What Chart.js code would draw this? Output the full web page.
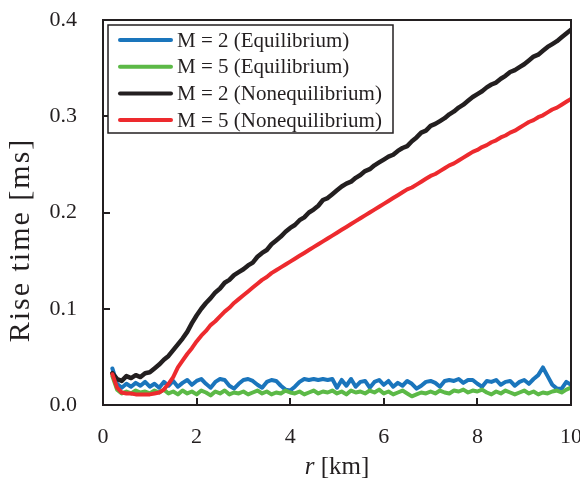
<!DOCTYPE html>
<html>
<head>
<meta charset="utf-8">
<script src="https://cdn.jsdelivr.net/npm/chart.js@4.4.1/dist/chart.umd.min.js"></script>
<style>
  html, body { margin: 0; padding: 0; background: #ffffff; }
  #wrap { width: 580px; height: 482px; }
</style>
</head>
<body>
<div id="wrap"><canvas id="grafico" width="580" height="482"></canvas></div>
<script>
// dados (r em km, tempo de subida em ms)
const rKm = [
  0.2, 0.3, 0.4, 0.5, 0.6, 0.7, 0.8, 0.9, 1.0, 1.1,
  1.2, 1.3, 1.4, 1.5, 1.6, 1.7, 1.8, 1.9, 2.0, 2.1,
  2.2, 2.3, 2.4, 2.5, 2.6, 2.7, 2.8, 2.9, 3.0, 3.1,
  3.2, 3.3, 3.4, 3.5, 3.6, 3.7, 3.8, 3.9, 4.0, 4.1,
  4.2, 4.3, 4.4, 4.5, 4.6, 4.7, 4.8, 4.9, 5.0, 5.1,
  5.2, 5.3, 5.4, 5.5, 5.6, 5.7, 5.8, 5.9, 6.0, 6.1,
  6.2, 6.3, 6.4, 6.5, 6.6, 6.7, 6.8, 6.9, 7.0, 7.1,
  7.2, 7.3, 7.4, 7.5, 7.6, 7.7, 7.8, 7.9, 8.0, 8.1,
  8.2, 8.3, 8.4, 8.5, 8.6, 8.7, 8.8, 8.9, 9.0, 9.1,
  9.2, 9.3, 9.4, 9.5, 9.6, 9.7, 9.8, 9.9, 10.0
];
const m2Equilibrio = [
  0.038, 0.022, 0.018, 0.022, 0.019, 0.023, 0.020, 0.024, 0.019, 0.022,
  0.018, 0.024, 0.020, 0.025, 0.019, 0.023, 0.026, 0.021, 0.025, 0.027,
  0.022, 0.018, 0.024, 0.027, 0.026, 0.020, 0.017, 0.022, 0.026, 0.027,
  0.025, 0.021, 0.018, 0.024, 0.026, 0.025, 0.020, 0.016, 0.015, 0.019,
  0.024, 0.027, 0.026, 0.027, 0.026, 0.027, 0.026, 0.027, 0.018, 0.026,
  0.020, 0.027, 0.019, 0.024, 0.025, 0.018, 0.024, 0.026, 0.021, 0.025,
  0.019, 0.023, 0.020, 0.025, 0.022, 0.017, 0.020, 0.024, 0.025, 0.023,
  0.019, 0.025, 0.026, 0.025, 0.027, 0.023, 0.026, 0.026, 0.022, 0.019,
  0.025, 0.024, 0.026, 0.021, 0.024, 0.025, 0.020, 0.024, 0.026, 0.022,
  0.027, 0.031, 0.039, 0.030, 0.021, 0.017, 0.017, 0.024, 0.021
];
const m5Equilibrio = [
  0.030, 0.016, 0.012, 0.014, 0.012, 0.015, 0.013, 0.014, 0.012, 0.015,
  0.013, 0.016, 0.012, 0.014, 0.011, 0.015, 0.012, 0.014, 0.011, 0.015,
  0.013, 0.010, 0.014, 0.012, 0.015, 0.011, 0.013, 0.012, 0.014, 0.011,
  0.013, 0.015, 0.012, 0.014, 0.011, 0.013, 0.012, 0.015, 0.013, 0.012,
  0.014, 0.011, 0.013, 0.015, 0.012, 0.014, 0.013, 0.015, 0.012, 0.014,
  0.011, 0.015, 0.013, 0.014, 0.012, 0.015, 0.013, 0.016, 0.012, 0.014,
  0.011, 0.013, 0.015, 0.012, 0.009, 0.011, 0.013, 0.012, 0.014, 0.012,
  0.015, 0.013, 0.012, 0.015, 0.014, 0.016, 0.013, 0.015, 0.014, 0.016,
  0.013, 0.011, 0.014, 0.012, 0.015, 0.013, 0.011, 0.013, 0.015, 0.012,
  0.014, 0.011, 0.013, 0.012, 0.014, 0.015, 0.013, 0.016, 0.018
];
const m2NaoEquilibrio = [
  0.033, 0.027, 0.025, 0.030, 0.028, 0.031, 0.029, 0.033, 0.034, 0.038,
  0.042, 0.047, 0.051, 0.057, 0.063, 0.069, 0.076, 0.085, 0.093, 0.100,
  0.106, 0.111, 0.117, 0.121, 0.127, 0.130, 0.135, 0.138, 0.141, 0.145,
  0.148, 0.154, 0.158, 0.161, 0.167, 0.171, 0.175, 0.180, 0.184, 0.187,
  0.192, 0.195, 0.200, 0.203, 0.207, 0.213, 0.215, 0.219, 0.223, 0.227,
  0.230, 0.232, 0.236, 0.239, 0.243, 0.245, 0.249, 0.252, 0.255, 0.258,
  0.260, 0.264, 0.267, 0.269, 0.274, 0.278, 0.283, 0.285, 0.290, 0.292,
  0.295, 0.298, 0.302, 0.305, 0.309, 0.312, 0.316, 0.320, 0.323, 0.326,
  0.330, 0.333, 0.335, 0.339, 0.342, 0.346, 0.348, 0.351, 0.354, 0.358,
  0.362, 0.364, 0.368, 0.372, 0.375, 0.378, 0.382, 0.386, 0.390
];
const m5NaoEquilibrio = [
  0.032, 0.018, 0.013, 0.012, 0.012, 0.011, 0.011, 0.011, 0.011, 0.012,
  0.013, 0.016, 0.022, 0.029, 0.039, 0.046, 0.053, 0.059, 0.066, 0.072,
  0.077, 0.083, 0.087, 0.092, 0.097, 0.101, 0.106, 0.110, 0.114, 0.118,
  0.122, 0.126, 0.130, 0.133, 0.137, 0.140, 0.143, 0.146, 0.149, 0.152,
  0.155, 0.158, 0.161, 0.164, 0.167, 0.170, 0.173, 0.176, 0.179, 0.182,
  0.185, 0.188, 0.191, 0.194, 0.197, 0.200, 0.203, 0.206, 0.209, 0.212,
  0.215, 0.218, 0.221, 0.224, 0.226, 0.229, 0.232, 0.235, 0.238, 0.240,
  0.243, 0.246, 0.249, 0.251, 0.254, 0.257, 0.260, 0.263, 0.265, 0.268,
  0.270, 0.273, 0.275, 0.278, 0.280, 0.283, 0.285, 0.288, 0.291, 0.294,
  0.296, 0.299, 0.301, 0.304, 0.307, 0.309, 0.312, 0.315, 0.318
];
const rotulosSeries = [
  "M = 2 (Equilibrium)",
  "M = 5 (Equilibrium)",
  "M = 2 (Nonequilibrium)",
  "M = 5 (Nonequilibrium)"
];
const ticksX = [2, 4, 6, 8];
const ticksY = [0.1, 0.2, 0.3];

const FONTE = '"Liberation Serif", "Times New Roman", serif';
const PRETO = "#231f20";

function pontos(valores) {
  return rKm.map((r, i) => ({ x: r, y: valores[i] }));
}

// moldura, ticks internos, títulos dos eixos e legenda
const pluginMoldura = {
  id: "moldura",
  afterDraw(chart) {
    const { ctx, chartArea: a, scales } = chart;
    ctx.save();
    ctx.strokeStyle = PRETO;
    ctx.lineWidth = 2;
    ctx.strokeRect(a.left, a.top, a.right - a.left, a.bottom - a.top);

    ctx.beginPath();
    for (const v of ticksX) {
      const px = Math.round(scales.x.getPixelForValue(v));
      ctx.moveTo(px, a.bottom);
      ctx.lineTo(px, a.bottom - 7);
    }
    for (const v of ticksY) {
      const py = Math.round(scales.y.getPixelForValue(v));
      ctx.moveTo(a.left, py);
      ctx.lineTo(a.left + 7, py);
    }
    ctx.stroke();

    // título do eixo x: "r [km]" com r em itálico
    ctx.fillStyle = PRETO;
    ctx.textBaseline = "alphabetic";
    ctx.font = "italic 25px " + FONTE;
    const wR = ctx.measureText("r").width;
    ctx.font = "25px " + FONTE;
    const wResto = ctx.measureText(" [km]").width;
    const x0 = (a.left + a.right) / 2 - (wR + wResto) / 2;
    ctx.font = "italic 25px " + FONTE;
    ctx.textAlign = "left";
    ctx.fillText("r", x0, 474);
    ctx.font = "25px " + FONTE;
    ctx.fillText(" [km]", x0 + wR, 474);

    // título do eixo y
    ctx.save();
    ctx.translate(29, 240);
    ctx.rotate(-Math.PI / 2);
    ctx.textAlign = "center";
    ctx.font = "30px " + FONTE;
    ctx.letterSpacing = "2px";
    ctx.fillText("Rise time [ms]", 0, 0);
    ctx.letterSpacing = "0px";
    ctx.restore();

    // legenda
    const box = { x: 108, y: 25, w: 285, h: 108 };
    ctx.fillStyle = "#ffffff";
    ctx.fillRect(box.x, box.y, box.w, box.h);
    ctx.lineWidth = 1.5;
    ctx.strokeStyle = PRETO;
    ctx.strokeRect(box.x, box.y, box.w, box.h);
    ctx.font = "21px " + FONTE;
    ctx.textAlign = "left";
    ctx.textBaseline = "middle";
    chart.data.datasets.forEach((ds, i) => {
      const yy = 40 + i * 26.7;
      ctx.strokeStyle = ds.borderColor;
      ctx.lineWidth = 4;
      ctx.lineCap = "round";
      ctx.beginPath();
      ctx.moveTo(120, yy);
      ctx.lineTo(171, yy);
      ctx.stroke();
      ctx.fillStyle = PRETO;
      ctx.fillText(ds.label, 177, yy + 1);
    });
    ctx.restore();
  }
};

function gerarGrafico() {
  const config = {
    type: "line",
    data: {
      datasets: [
        { label: rotulosSeries[0], data: pontos(m2Equilibrio), borderColor: "#1a75bc", borderWidth: 4, order: 3 },
        { label: rotulosSeries[1], data: pontos(m5Equilibrio), borderColor: "#5cb947", borderWidth: 4, order: 2 },
        { label: rotulosSeries[2], data: pontos(m2NaoEquilibrio), borderColor: "#231f20", borderWidth: 4.5, order: 1 },
        { label: rotulosSeries[3], data: pontos(m5NaoEquilibrio), borderColor: "#ed2a2e", borderWidth: 4, order: 0 }
      ]
    },
    options: {
      responsive: false,
      animation: false,
      events: [],
      layout: { padding: { top: 20, right: 9, left: 0, bottom: 0 } },
      elements: {
        point: { radius: 0 },
        line: { tension: 0, borderJoinStyle: "round", borderCapStyle: "round" }
      },
      plugins: {
        legend: { display: false },
        tooltip: { enabled: false }
      },
      scales: {
        x: {
          type: "linear",
          min: 0,
          max: 10,
          grid: { display: false, drawTicks: false },
          border: { display: false },
          ticks: {
            stepSize: 2,
            padding: 19,
            color: PRETO,
            font: { family: FONTE, size: 22 },
            maxRotation: 0,
            callback: (v) => String(v)
          },
          afterFit: (scale) => {
            scale.height = 77;
            scale.paddingLeft = 0;
            scale.paddingRight = 0;
          }
        },
        y: {
          min: 0,
          max: 0.4,
          grid: { display: false, drawTicks: false },
          border: { display: false },
          ticks: {
            stepSize: 0.1,
            padding: 26,
            color: PRETO,
            font: { family: FONTE, size: 22 },
            callback: (v) => v.toFixed(1)
          },
          afterFit: (scale) => {
            scale.width = 103;
            scale.paddingTop = 0;
            scale.paddingBottom = 0;
          }
        }
      }
    },
    plugins: [pluginMoldura]
  };
  return new Chart(document.getElementById("grafico"), config);
}

gerarGrafico();
</script>
</body>
</html>
